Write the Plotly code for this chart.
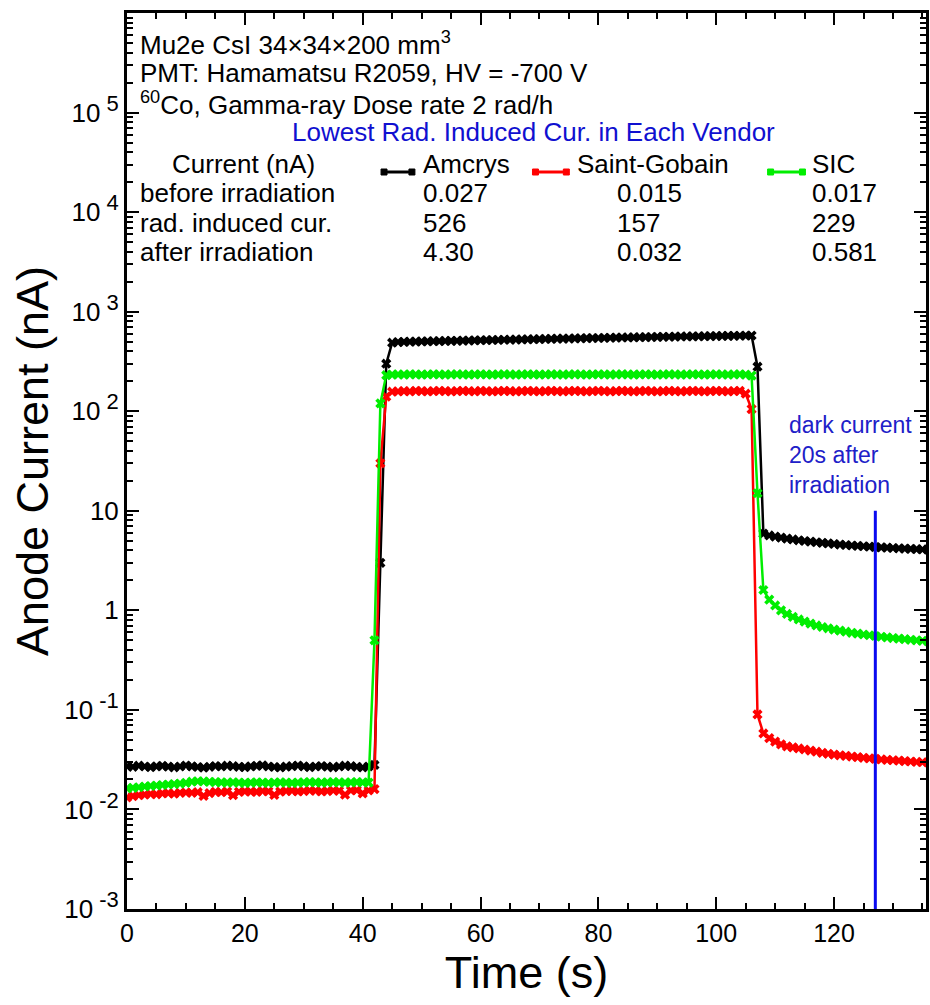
import plotly.graph_objects as go

# ---------------- data ----------------
time_s = list(range(137))

amcrys_before = [0.0272,0.0268,0.0275,0.0270,0.0266,0.0271,0.0274,0.0269,0.0265,0.0270,
                 0.0276,0.0271,0.0267,0.0263,0.0268,0.0273,0.0270,0.0275,0.0272,0.0268,
                 0.0266,0.0271,0.0274,0.0277,0.0270,0.0267,0.0264,0.0269,0.0272,0.0276,
                 0.0271,0.0266,0.0270,0.0273,0.0269,0.0265,0.0270,0.0275,0.0272,0.0268,
                 0.0264,0.0270]
amcrys_rise = [0.028, 3.0, 300, 488]
amcrys_irr = [495,497,499,500,502,503,505,506,508,509,
              510,512,513,515,516,518,519,520,522,523,
              525,526,528,529,530,532,533,535,536,537,
              539,540,542,543,544,546,547,548,550,551,
              552,554,555,556,558,559,560,562,563,564,
              565,566,567,568,569,570,571,572,573,574]
amcrys_fall = [576, 280, 5.9]
amcrys_after = [5.65,5.5,5.38,5.25,5.15,5.05,4.97,4.9,4.83,4.76,
                4.7,4.64,4.58,4.53,4.48,4.44,4.4,4.36,4.32,4.29,
                4.26,4.23,4.2,4.17,4.14,4.12,4.09,4.07]

sg_before = [0.0132,0.0136,0.0139,0.0141,0.0143,0.0142,0.0145,0.0146,0.0144,0.0147,
             0.0148,0.0147,0.0149,0.0137,0.0146,0.0150,0.0149,0.0151,0.0139,0.0150,
             0.0152,0.0151,0.0150,0.0153,0.0152,0.0140,0.0151,0.0153,0.0154,0.0152,
             0.0153,0.0155,0.0154,0.0152,0.0153,0.0155,0.0154,0.0141,0.0155,0.0156,
             0.0145,0.0155]
sg_rise = [0.016, 30, 140, 157]
sg_irr = [158,159,158,160,159,158,159,160,159,158,
          159,160,159,158,160,159,158,159,160,159,
          158,159,160,159,158,159,160,159,158,159,
          160,159,158,159,160,159,158,159,160,159,
          158,159,160,159,158,159,160,159,158,159,
          160,159,158,159,160,159,158,159,160,150]
sg_fall = [105, 0.09, 0.058]
sg_after = [0.052,0.048,0.045,0.043,0.042,0.041,0.040,0.039,0.038,0.037,
            0.0362,0.0355,0.035,0.0345,0.034,0.0335,0.033,0.0326,0.0322,0.0318,
            0.0315,0.0312,0.0309,0.0306,0.0303,0.0300,0.0298,0.0296]

sic_before = [0.0163,0.0165,0.0167,0.0170,0.0172,0.0174,0.0176,0.0178,0.0180,0.0182,
              0.0185,0.0190,0.0192,0.0191,0.0189,0.0188,0.0187,0.0186,0.0187,0.0186,
              0.0185,0.0186,0.0187,0.0186,0.0185,0.0186,0.0187,0.0186,0.0185,0.0186,
              0.0187,0.0188,0.0187,0.0186,0.0187,0.0188,0.0187,0.0186,0.0187,0.0188,
              0.0187,0.0186]
sic_rise = [0.5, 120, 230]
sic_irr = [233,234,233,235,234,233,234,235,234,233,
           234,235,234,233,234,235,234,233,234,235,
           234,233,234,235,234,233,234,235,234,233,
           234,235,234,233,234,235,234,233,234,235,
           234,233,234,235,234,233,234,235,234,233,
           234,235,234,233,234,235,234,233,234,235,
           233]
sic_fall = [228, 15, 1.6]
sic_after = [1.28,1.12,1.0,0.92,0.86,0.81,0.77,0.735,0.705,0.68,
             0.66,0.64,0.625,0.61,0.595,0.583,0.572,0.562,0.552,0.543,
             0.535,0.527,0.52,0.513,0.506,0.5,0.494,0.488]

amcrys = amcrys_before + amcrys_rise + amcrys_irr + amcrys_fall + amcrys_after
saint_gobain = sg_before + sg_rise + sg_irr + sg_fall + sg_after
sic = sic_before + sic_rise + sic_irr + sic_fall + sic_after

marker_time = [127, 127]
marker_current = [10, 0.001]

vendors = ["Amcrys", "Saint-Gobain", "SIC"]
before_irr = ["0.027", "0.015", "0.017"]
rad_induced = ["526", "157", "229"]
after_irr = ["4.30", "0.032", "0.581"]

x_ticks = [0, 20, 40, 60, 80, 100, 120]
y_exps = [-3, -2, -1, 0, 1, 2, 3, 4, 5]
y_exp_text = ["-3", "-2", "-1", "", "", "2", "3", "4", "5"]

# ---------------- styling helpers ----------------
FONT = "Liberation Sans, Arial, sans-serif"
L, R, T, B = 127, 929, 13, 909
W, H = 930, 1005

def px(x):
    return (x - L) / (R - L)

def py(y):
    return (B - y) / (B - T)

def tick_label(e, s):
    if e == 0:
        return "1"
    if e == 1:
        return "10"
    return "10<sup><span style='font-size:22px'> " + s + "</span></sup>"

y_ticktext = [tick_label(e, s) for e, s in zip(y_exps, y_exp_text)]

colors = ["#000000", "#ff0000", "#00ee00"]
series = [amcrys, saint_gobain, sic]

fig = go.Figure()
for name, ys, c in zip(vendors, series, colors):
    fig.add_trace(go.Scatter(
        x=time_s, y=ys, mode="lines+markers", name=name,
        line=dict(color=c, width=2.5),
        marker=dict(symbol="x", size=9, color=c, line=dict(width=0)),
        showlegend=False, cliponaxis=True))

fig.add_trace(go.Scatter(x=marker_time, y=marker_current, mode="lines",
                         line=dict(color="#0a0af0", width=3), showlegend=False))

minor_vals = [m * 10 ** e for e in range(-3, 6) for m in range(2, 10)]

fig.update_layout(
    width=W, height=H,
    margin=dict(l=L, r=W - R, t=T, b=H - B),
    paper_bgcolor="white", plot_bgcolor="white",
    font=dict(family=FONT, color="black"),
    xaxis=dict(range=[0, 135.6], tickvals=x_ticks, ticks="inside", ticklen=12,
               tickwidth=2, tickcolor="black", linewidth=3, linecolor="black",
               mirror="allticks", showgrid=False, zeroline=False,
               tickfont=dict(size=25, family=FONT),
               minor=dict(dtick=5, ticks="inside", ticklen=6, tickwidth=2,
                          tickcolor="black", showgrid=False),
               title=dict(text="Time (s)", font=dict(size=45, family=FONT), standoff=10)),
    yaxis=dict(type="log", range=[-3, 6], tickvals=[10 ** e for e in y_exps],
               ticktext=y_ticktext, ticks="inside", ticklen=12, tickwidth=2,
               tickcolor="black", linewidth=3, linecolor="black",
               mirror="allticks", showgrid=False, zeroline=False,
               tickfont=dict(size=26, family=FONT),
               minor=dict(tickvals=minor_vals, ticks="inside", ticklen=6,
                          tickwidth=1.5, tickcolor="black", showgrid=False),
               title=dict(text="Anode Current (nA)", font=dict(size=45, family=FONT),
                          standoff=2)),
)

ann = []
def text(x, y, s, size=26, color="black", xanchor="left"):
    ann.append(dict(x=px(x), y=py(y), xref="paper", yref="paper", text=s,
                    showarrow=False, xanchor=xanchor, yanchor="middle", align="left",
                    font=dict(size=size, color=color, family=FONT)))

text(138, 43, "Mu2e CsI 34×34×200 mm<sup>3</sup>")
text(138, 73, "PMT: Hamamatsu R2059, HV = -700 V")
text(138, 103, "<sup>60</sup>Co, Gamma-ray Dose rate 2 rad/h")
text(535, 132, "Lowest Rad. Induced Cur. in Each Vendor", color="#1010d0", xanchor="center")
text(170, 164, "Current (nA)")
text(138, 193, "before irradiation")
text(138, 223, "rad. induced cur.")
text(138, 252, "after irradiation")

col_name_x = [422, 577, 813]
col_val_x = [422, 617, 813]
glyph_x = [(385, 413), (537, 568), (773, 805)]
for i in range(3):
    text(col_name_x[i], 164, vendors[i])
    text(col_val_x[i], 193, before_irr[i])
    text(col_val_x[i], 223, rad_induced[i])
    text(col_val_x[i], 252, after_irr[i])

text(789, 455, "dark current<br>20s after<br>irradiation", size=23, color="#2020c8")

shapes = []
for (x0, x1), c in zip(glyph_x, colors):
    shapes.append(dict(type="line", xref="paper", yref="paper",
                       x0=px(x0), x1=px(x1), y0=py(172), y1=py(172),
                       line=dict(color=c, width=3)))
    for xe in (x0, x1):
        shapes.append(dict(type="rect", xref="paper", yref="paper",
                           x0=px(xe - 3), x1=px(xe + 3), y0=py(175), y1=py(169),
                           fillcolor=c, line=dict(color=c, width=1)))

fig.update_layout(annotations=ann, shapes=shapes)
fig.write_html("out.html")
